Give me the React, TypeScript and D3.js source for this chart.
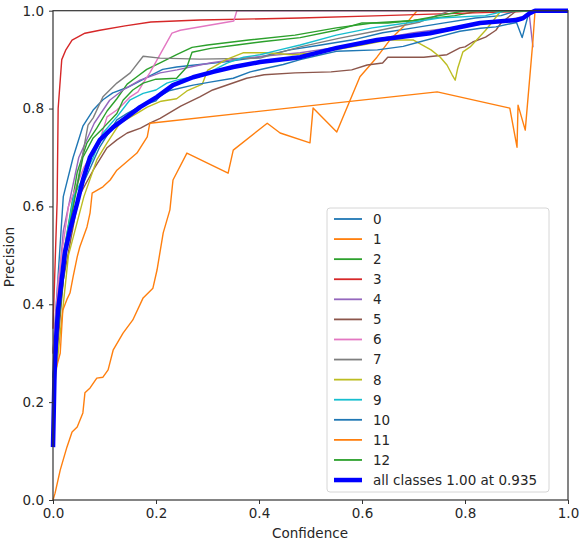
import * as d3 from "d3";
import { useEffect, useRef } from "react";

type Pt = [number, number];

// per-class precision vs confidence curves
const class0: Pt[] = [[0, 0.3], [0.02, 0.62], [0.039, 0.7], [0.058, 0.764], [0.078, 0.797], [0.097, 0.818], [0.116, 0.832], [0.144, 0.843], [0.163, 0.853], [0.188, 0.867], [0.213, 0.88], [0.24, 0.885], [0.285, 0.89], [0.33, 0.895], [0.4, 0.905], [0.46, 0.92], [0.52, 0.93], [0.58, 0.94], [0.64, 0.955], [0.7, 0.965], [0.76, 0.975], [0.82, 0.985], [0.87, 0.99], [0.9, 1], [1, 1]];
const class1: Pt[] = [[0, 0], [0.004, 0.014], [0.014, 0.061], [0.027, 0.108], [0.037, 0.139], [0.047, 0.149], [0.058, 0.178], [0.062, 0.219], [0.072, 0.229], [0.085, 0.249], [0.097, 0.251], [0.107, 0.266], [0.117, 0.307], [0.136, 0.341], [0.155, 0.368], [0.175, 0.413], [0.194, 0.433], [0.202, 0.47], [0.214, 0.546], [0.227, 0.593], [0.233, 0.654], [0.26, 0.709], [0.34, 0.668], [0.35, 0.715], [0.416, 0.77], [0.441, 0.75], [0.499, 0.73], [0.505, 0.801], [0.551, 0.752], [0.596, 0.865], [0.629, 0.905], [0.654, 0.94], [0.68, 0.967], [0.707, 1], [1, 1]];
const class2: Pt[] = [[0, 0.3], [0.02, 0.5], [0.047, 0.67], [0.066, 0.73], [0.085, 0.76], [0.105, 0.795], [0.124, 0.82], [0.144, 0.85], [0.163, 0.865], [0.182, 0.88], [0.207, 0.893], [0.24, 0.91], [0.27, 0.925], [0.3, 0.93], [0.38, 0.94], [0.47, 0.95], [0.55, 0.965], [0.62, 0.975], [0.7, 0.98], [0.78, 0.99], [0.83, 1], [1, 1]];
const class3: Pt[] = [[0, 0.35], [0.008, 0.61], [0.01, 0.8], [0.017, 0.9], [0.025, 0.92], [0.037, 0.94], [0.062, 0.954], [0.091, 0.96], [0.14, 0.969], [0.19, 0.977], [0.285, 0.981], [0.48, 0.985], [0.64, 0.99], [0.8, 0.995], [0.9, 0.998], [0.93, 1], [1, 1]];
const class4: Pt[] = [[0, 0.3], [0.02, 0.55], [0.05, 0.7], [0.08, 0.77], [0.11, 0.817], [0.136, 0.838], [0.169, 0.858], [0.208, 0.873], [0.241, 0.879], [0.285, 0.889], [0.305, 0.893], [0.369, 0.903], [0.48, 0.914], [0.55, 0.925], [0.62, 0.94], [0.7, 0.955], [0.77, 0.965], [0.85, 0.975], [0.9, 0.985], [0.925, 0.99], [0.932, 0.925]];
const class5: Pt[] = [[0, 0.2], [0.02, 0.45], [0.05, 0.62], [0.078, 0.674], [0.105, 0.72], [0.124, 0.736], [0.144, 0.75], [0.17, 0.76], [0.188, 0.77], [0.208, 0.78], [0.248, 0.805], [0.285, 0.824], [0.31, 0.838], [0.376, 0.862], [0.41, 0.869], [0.47, 0.873], [0.54, 0.875], [0.58, 0.879], [0.61, 0.889], [0.64, 0.893], [0.65, 0.905], [0.72, 0.905], [0.765, 0.91], [0.79, 0.924], [0.8, 0.926], [0.815, 0.936], [0.84, 0.946], [0.86, 0.96], [0.87, 0.975], [0.9, 1], [1, 1]];
const class6: Pt[] = [[0, 0.3], [0.01, 0.45], [0.03, 0.6], [0.06, 0.68], [0.091, 0.736], [0.105, 0.783], [0.124, 0.797], [0.134, 0.807], [0.15, 0.824], [0.165, 0.834], [0.175, 0.852], [0.188, 0.873], [0.231, 0.954], [0.247, 0.96], [0.351, 0.979], [0.357, 1], [1, 1]];
const class7: Pt[] = [[0, 0.25], [0.014, 0.41], [0.033, 0.57], [0.052, 0.674], [0.068, 0.766], [0.078, 0.781], [0.097, 0.824], [0.124, 0.852], [0.15, 0.873], [0.175, 0.907], [0.208, 0.903], [0.285, 0.901], [0.402, 0.903], [0.48, 0.926], [0.557, 0.944], [0.635, 0.96], [0.713, 0.977], [0.771, 1], [1, 1]];
const class8: Pt[] = [[0, 0.2], [0.03, 0.5], [0.06, 0.62], [0.085, 0.695], [0.105, 0.73], [0.13, 0.77], [0.163, 0.79], [0.183, 0.803], [0.21, 0.815], [0.24, 0.82], [0.26, 0.836], [0.29, 0.85], [0.3, 0.878], [0.336, 0.9], [0.369, 0.914], [0.415, 0.914], [0.465, 0.91], [0.52, 0.915], [0.6, 0.93], [0.65, 0.94], [0.7, 0.94], [0.734, 0.92], [0.752, 0.905], [0.765, 0.889], [0.775, 0.869], [0.781, 0.858], [0.786, 0.883], [0.796, 0.916], [0.81, 0.926], [0.84, 0.96], [0.87, 1], [1, 1]];
const class9: Pt[] = [[0, 0.25], [0.02, 0.5], [0.04, 0.62], [0.078, 0.7], [0.097, 0.75], [0.124, 0.783], [0.149, 0.817], [0.175, 0.831], [0.2, 0.838], [0.221, 0.852], [0.24, 0.858], [0.272, 0.865], [0.305, 0.875], [0.338, 0.893], [0.37, 0.905], [0.402, 0.91], [0.44, 0.92], [0.48, 0.93], [0.55, 0.95], [0.62, 0.965], [0.687, 0.975], [0.75, 0.985], [0.84, 0.99], [0.88, 1], [1, 1]];
const class10: Pt[] = [[0, 0.2], [0.01, 0.4], [0.03, 0.55], [0.06, 0.65], [0.09, 0.72], [0.124, 0.777], [0.144, 0.79], [0.17, 0.805], [0.2, 0.816], [0.208, 0.826], [0.227, 0.837], [0.272, 0.848], [0.305, 0.854], [0.35, 0.862], [0.383, 0.875], [0.416, 0.883], [0.447, 0.89], [0.48, 0.9], [0.52, 0.91], [0.55, 0.917], [0.63, 0.92], [0.68, 0.927], [0.711, 0.936], [0.75, 0.947], [0.79, 0.958], [0.83, 0.964], [0.86, 0.967], [0.9, 0.976], [0.911, 0.945], [0.925, 1], [1, 1]];
const class11: Pt[] = [[0, 0.245], [0.014, 0.3], [0.019, 0.388], [0.027, 0.41], [0.033, 0.423], [0.039, 0.456], [0.047, 0.497], [0.052, 0.517], [0.066, 0.558], [0.072, 0.587], [0.076, 0.627], [0.097, 0.64], [0.111, 0.654], [0.124, 0.674], [0.163, 0.709], [0.183, 0.742], [0.188, 0.77], [0.746, 0.834], [0.887, 0.801], [0.901, 0.721], [0.903, 0.807], [0.917, 0.756], [0.932, 0.94], [0.936, 1], [1, 1]];
const class12: Pt[] = [[0, 0.25], [0.03, 0.55], [0.058, 0.7], [0.078, 0.74], [0.097, 0.76], [0.124, 0.79], [0.136, 0.817], [0.155, 0.838], [0.175, 0.852], [0.2, 0.86], [0.24, 0.862], [0.26, 0.885], [0.27, 0.915], [0.306, 0.923], [0.357, 0.93], [0.41, 0.937], [0.48, 0.945], [0.55, 0.96], [0.6, 0.975], [0.65, 0.975], [0.7, 0.98], [0.75, 0.99], [0.8, 1], [1, 1]];

// mean over all classes
const allClasses: Pt[] = [[0, 0.108], [0.003, 0.26], [0.006, 0.33], [0.0097, 0.388], [0.017, 0.45], [0.023, 0.505], [0.033, 0.552], [0.047, 0.607], [0.058, 0.654], [0.072, 0.701], [0.091, 0.736], [0.117, 0.762], [0.144, 0.783], [0.169, 0.803], [0.202, 0.824], [0.233, 0.848], [0.272, 0.864], [0.311, 0.875], [0.35, 0.885], [0.402, 0.895], [0.48, 0.905], [0.551, 0.924], [0.629, 0.94], [0.732, 0.954], [0.784, 0.965], [0.829, 0.975], [0.901, 0.981], [0.913, 0.985], [0.926, 0.995], [0.936, 1], [1, 1]];

const classNames = ["0", "1", "2", "3", "4", "5", "6", "7", "8", "9", "10", "11", "12"];
const classCurves = [class0, class1, class2, class3, class4, class5, class6, class7, class8, class9, class10, class11, class12];
const meanLabel = "all classes 1.00 at 0.935";
const xTicks = [0, 0.2, 0.4, 0.6, 0.8, 1.0];
const yTicks = [0, 0.2, 0.4, 0.6, 0.8, 1.0];

const tab10 = ["#1f77b4", "#ff7f0e", "#2ca02c", "#d62728", "#9467bd", "#8c564b", "#e377c2", "#7f7f7f", "#bcbd22", "#17becf"];

const App = () => {
  const svgRef = useRef<SVGSVGElement>(null);

  useEffect(() => {
    const w = 581;
    const h = 541;
    const svg = d3.select(svgRef.current).attr("width", w).attr("height", h);
    svg.selectAll("*").remove();

    const font = "DejaVu Sans, sans-serif";
    const fs = 13.5;
    const x = d3.scaleLinear().domain([0, 1]).range([53, 568]);
    const y = d3.scaleLinear().domain([0, 1]).range([500, 10.7]);

    svg.append("rect").attr("width", w).attr("height", h).attr("fill", "#fff");

    const line = d3
      .line<Pt>()
      .x((d) => x(d[0]))
      .y((d) => y(d[1]));

    const plot = svg.append("g");
    classCurves.forEach((pts, i) => {
      plot
        .append("path")
        .attr("d", line(pts))
        .attr("fill", "none")
        .attr("stroke", tab10[i % 10])
        .attr("stroke-width", 1.4)
        .attr("stroke-linejoin", "round");
    });
    plot
      .append("path")
      .attr("d", line(allClasses))
      .attr("fill", "none")
      .attr("stroke", "#0000ff")
      .attr("stroke-width", 4.5)
      .attr("stroke-linejoin", "round");

    // axes
    const xAxis = d3.axisBottom(x).tickValues(xTicks).tickSize(4).tickPadding(4).tickFormat(d3.format(".1f"));
    const yAxis = d3.axisLeft(y).tickValues(yTicks).tickSize(4).tickPadding(5).tickFormat(d3.format(".1f"));
    const gx = svg.append("g").attr("transform", `translate(0,${y(0)})`).call(xAxis);
    const gy = svg.append("g").attr("transform", `translate(${x(0)},0)`).call(yAxis);
    [gx, gy].forEach((g) => {
      g.select(".domain").remove();
      g.selectAll("line").attr("stroke", "#333");
      g.selectAll("text").attr("font-family", font).attr("font-size", fs).attr("fill", "#262626");
    });

    // frame
    svg
      .append("rect")
      .attr("x", x(0))
      .attr("y", y(1))
      .attr("width", x(1) - x(0))
      .attr("height", y(0) - y(1))
      .attr("fill", "none")
      .attr("stroke", "#333")
      .attr("stroke-width", 1.2);

    svg
      .append("text")
      .attr("x", 310)
      .attr("y", 538)
      .attr("text-anchor", "middle")
      .attr("font-family", font)
      .attr("font-size", fs)
      .attr("fill", "#262626")
      .text("Confidence");
    svg
      .append("text")
      .attr("transform", `translate(14,${257}) rotate(-90)`)
      .attr("text-anchor", "middle")
      .attr("font-family", font)
      .attr("font-size", fs)
      .attr("fill", "#262626")
      .text("Precision");

    // legend
    const legend = svg.append("g");
    legend
      .append("rect")
      .attr("x", 327)
      .attr("y", 208)
      .attr("width", 222)
      .attr("height", 284)
      .attr("rx", 3)
      .attr("fill", "#fff")
      .attr("fill-opacity", 0.85)
      .attr("stroke", "#d6d6d6");
    const labels = [...classNames, meanLabel];
    labels.forEach((label, i) => {
      const ly = 219 + i * 20.08;
      const isMean = i === classNames.length;
      legend
        .append("line")
        .attr("x1", 334)
        .attr("x2", 362)
        .attr("y1", ly)
        .attr("y2", ly)
        .attr("stroke", isMean ? "#0000ff" : tab10[i % 10])
        .attr("stroke-width", isMean ? 4.5 : 1.8);
      legend
        .append("text")
        .attr("x", 373)
        .attr("y", ly)
        .attr("dy", "0.36em")
        .attr("font-family", font)
        .attr("font-size", fs)
        .attr("fill", "#262626")
        .text(label);
    });
  }, []);

  return (
    <div style={{ position: "absolute", left: 0, top: 0 }}>
      <svg ref={svgRef}></svg>
    </div>
  );
};

export default App;
